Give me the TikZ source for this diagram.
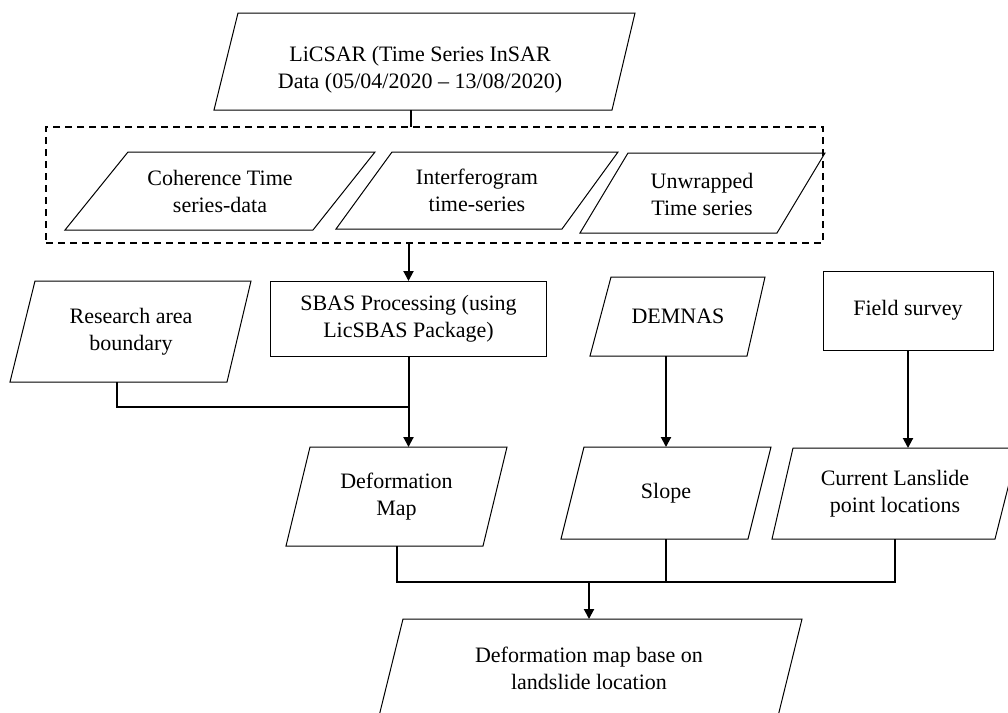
\documentclass[tikz,border=0pt]{standalone}
\usepackage{fontspec}
\setmainfont{Liberation Serif}
\usetikzlibrary{arrows.meta}
\tikzset{
  txt/.style={font=\fontsize{22}{27}\selectfont, align=center, inner sep=0pt, outer sep=0pt},
  shp/.style={draw=black, line width=1pt, line join=miter},
  boxnode/.style={txt, draw=black, line width=1pt},
  grpbox/.style={draw=black, line width=1.1pt, dash pattern=on 7pt off 5pt, inner sep=0pt, outer sep=0pt},
  conn/.style={draw=black, line width=2pt},
  arr/.style={conn, -{Triangle[width=10pt,length=10pt]}}
}
\begin{document}
\begin{tikzpicture}[x=1pt,y=-1pt]
\useasboundingbox (0,0) rectangle (1008,712);
\fill[white] (0,0) rectangle (1008,712);
\clip (0,0) rectangle (1008,712);

% outlines of the parallelograms
\draw[shp] (238,13) -- (635,13) -- (612,110) -- (214,110) -- cycle;
\draw[shp] (128,152) -- (375,152) -- (313,230) -- (65,230) -- cycle;
\draw[shp] (392,152) -- (618,152) -- (562,229) -- (336,229) -- cycle;
\draw[shp] (628,153) -- (825,153) -- (777,233) -- (580,233) -- cycle;
\draw[shp] (35,281) -- (251,281) -- (227,382) -- (10,382) -- cycle;
\draw[shp] (611,277) -- (765,277) -- (747,356) -- (590,356) -- cycle;
\draw[shp] (310,447) -- (507,447) -- (483,546) -- (286,546) -- cycle;
\draw[shp] (584,447) -- (771,447) -- (748,539) -- (561,539) -- cycle;
\draw[shp] (793,448) -- (1018,448) -- (995,539) -- (772,539) -- cycle;
\draw[shp] (403,619) -- (802,619) -- (774.6,730) -- (375.6,730) -- cycle;

% nodes
\node[txt, minimum height=80pt] (lic) at (420,70) {LiCSAR (Time Series InSAR\\Data (05/04/2020 – 13/08/2020)};
\node[grpbox, minimum width=777pt, minimum height=116pt] (grp) at (434.5,185) {};
\node[txt] (coh) at (220,191) {Coherence Time\\series-data};
\node[txt] (intf) at (477,190.5) {Interferogram\\time-series};
\node[txt] (unw) at (702,194) {Unwrapped\\Time series};
\node[txt, minimum height=101pt] (res) at (131,331.5) {Research area\\boundary};
\node[boxnode, minimum width=276pt, minimum height=75pt] (sbas) at (408.5,318.5) {SBAS Processing (using\\LicSBAS Package)};
\node[txt, minimum height=79pt] (dem) at (678,316.5) {DEMNAS};
\node[boxnode, minimum width=170pt, minimum height=79pt] (field) at (908,310.5) {Field survey};
\node[txt, minimum height=99pt] (defm) at (396.5,496.5) {Deformation\\Map};
\node[txt, minimum height=92pt] (slope) at (666,493) {Slope};
\node[txt, minimum height=91pt] (cur) at (895,493.5) {Current Lanslide\\point locations};
\node[txt, minimum height=98pt] (fin) at (589,668) {Deformation map base on\\landslide location};

\coordinate (j1) at (408,407);
\coordinate (j2) at (589,582);

% connectors
\draw[conn] ([xshift=-9pt]lic.south) -- ([xshift=-9pt]lic.south |- grp.north);
\draw[arr] (grp.south -| sbas.north) -- (sbas.north);
\draw[conn] ([xshift=-14pt]res.south) |- (j1);
\draw[arr] (sbas.south) -- (sbas.south |- defm.north);
\draw[arr] (dem.south -| slope.north) -- (slope.north);
\draw[arr] (field.south) -- (field.south |- cur.north);
\draw[conn] (defm.south) |- (j2 -| cur.south) -- (cur.south);
\draw[conn] (slope.south) -- (slope.south |- j2);
\draw[arr] (j2) -- (j2 |- fin.north);
\end{tikzpicture}
\end{document}
